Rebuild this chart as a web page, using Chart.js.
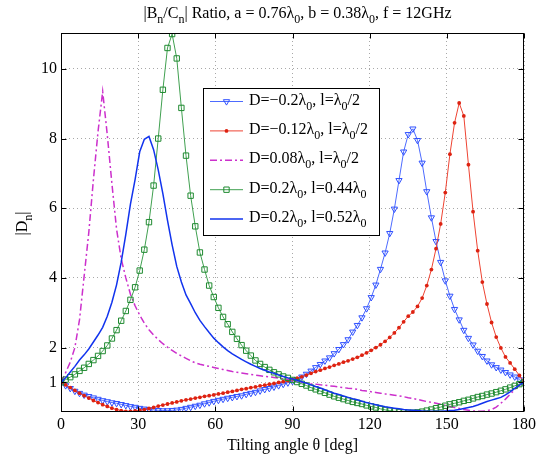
<!DOCTYPE html>
<html>
<head>
<meta charset="utf-8">
<script src="https://cdn.jsdelivr.net/npm/chart.js@4.4.1/dist/chart.umd.min.js"></script>
<style>
html, body { margin: 0; padding: 0; background: #fff; }
#wrap { width: 542px; height: 457px; }
</style>
</head>
<body>
<div id="wrap"><canvas id="chart" width="542" height="457"></canvas></div>
<script>
// tilting angle samples (deg)
var angles = [
    0, 1.8, 3.6, 5.4, 7.2, 9, 10.8, 12.6, 14.4, 16.2,
    18, 19.8, 21.6, 23.4, 25.2, 27, 28.8, 30.6, 32.4, 34.2,
    36, 37.8, 39.6, 41.4, 43.2, 45, 46.8, 48.6, 50.4, 52.2,
    54, 55.8, 57.6, 59.4, 61.2, 63, 64.8, 66.6, 68.4, 70.2,
    72, 73.8, 75.6, 77.4, 79.2, 81, 82.8, 84.6, 86.4, 88.2,
    90, 91.8, 93.6, 95.4, 97.2, 99, 100.8, 102.6, 104.4, 106.2,
    108, 109.8, 111.6, 113.4, 115.2, 117, 118.8, 120.6, 122.4, 124.2,
    126, 127.8, 129.6, 131.4, 133.2, 135, 136.8, 138.6, 140.4, 142.2,
    144, 145.8, 147.6, 149.4, 151.2, 153, 154.8, 156.6, 158.4, 160.2,
    162, 163.8, 165.6, 167.4, 169.2, 171, 172.8, 174.6, 176.4, 178.2,
    180
];

// |Dn| for D=-0.2 l0/2 (triangles)
var dNeg02 = [
    1.00, 0.91, 0.83, 0.75, 0.69, 0.64, 0.60, 0.56, 0.52, 0.48,
    0.45, 0.42, 0.40, 0.37, 0.34, 0.31, 0.29, 0.26, 0.24, 0.22,
    0.21, 0.20, 0.19, 0.19, 0.20, 0.21, 0.23, 0.26, 0.29, 0.32,
    0.35, 0.39, 0.42, 0.46, 0.49, 0.52, 0.55, 0.57, 0.60, 0.62,
    0.66, 0.69, 0.72, 0.76, 0.80, 0.83, 0.87, 0.91, 0.95, 0.99,
    1.03, 1.09, 1.16, 1.24, 1.33, 1.43, 1.52, 1.62, 1.71, 1.83,
    1.95, 2.09, 2.23, 2.45, 2.64, 2.86, 3.12, 3.44, 3.80, 4.25,
    4.72, 5.28, 5.98, 6.80, 7.62, 8.12, 8.28, 7.95, 7.30, 6.48,
    5.73, 5.05, 4.45, 3.92, 3.48, 3.10, 2.80, 2.50, 2.27, 2.08,
    1.90, 1.75, 1.62, 1.51, 1.43, 1.36, 1.29, 1.22, 1.16, 1.08,
    1.00
];

// D=-0.12 l0/2 (dots)
var dNeg012 = [
    1.00, 0.93, 0.85, 0.77, 0.69, 0.62, 0.55, 0.48, 0.42, 0.36,
    0.31, 0.26, 0.22, 0.19, 0.17, 0.17, 0.18, 0.20, 0.22, 0.25,
    0.28, 0.32, 0.35, 0.38, 0.41, 0.44, 0.47, 0.50, 0.52, 0.55,
    0.57, 0.60, 0.62, 0.64, 0.67, 0.69, 0.72, 0.74, 0.77, 0.80,
    0.82, 0.85, 0.87, 0.90, 0.92, 0.95, 0.97, 1.00, 1.02, 1.05,
    1.08, 1.12, 1.16, 1.21, 1.26, 1.31, 1.35, 1.40, 1.44, 1.49,
    1.53, 1.58, 1.62, 1.67, 1.72, 1.78, 1.85, 1.92, 2.00, 2.08,
    2.18, 2.29, 2.42, 2.57, 2.74, 2.90, 3.02, 3.18, 3.42, 3.78,
    4.24, 4.84, 5.55, 6.45, 7.55, 8.45, 9.02, 8.65, 7.25, 5.90,
    4.78, 3.88, 3.25, 2.72, 2.30, 1.99, 1.73, 1.56, 1.38, 1.20,
    1.00
];

// D=0.08 l0/2 (dash-dot)
var dPos008 = [
    1.00, 1.28, 1.58, 2.00, 2.80, 4.05, 5.30, 6.82, 8.20, 9.35,
    8.10, 6.70, 5.40, 4.55, 4.00, 3.53, 3.20, 2.93, 2.70, 2.51,
    2.36, 2.23, 2.11, 2.01, 1.92, 1.83, 1.76, 1.69, 1.62, 1.56,
    1.52, 1.49, 1.46, 1.43, 1.40, 1.37, 1.34, 1.31, 1.29, 1.27,
    1.25, 1.23, 1.21, 1.19, 1.17, 1.16, 1.14, 1.12, 1.10, 1.08,
    1.06, 1.03, 1.00, 0.98, 0.96, 0.95, 0.93, 0.92, 0.90, 0.89,
    0.87, 0.85, 0.83, 0.82, 0.80, 0.77, 0.75, 0.73, 0.71, 0.69,
    0.67, 0.65, 0.63, 0.61, 0.59, 0.56, 0.54, 0.51, 0.48, 0.45,
    0.43, 0.40, 0.37, 0.34, 0.31, 0.28, 0.25, 0.22, 0.20, 0.18,
    0.17, 0.17, 0.19, 0.22, 0.29, 0.40, 0.52, 0.66, 0.79, 0.92,
    1.00
];

// D=0.2 l=0.44 (squares)
var dPos02a = [
    1.00, 1.08, 1.15, 1.23, 1.33, 1.42, 1.53, 1.64, 1.76, 1.90,
    2.06, 2.26, 2.50, 2.77, 3.05, 3.37, 3.73, 4.21, 4.81, 5.60,
    6.65, 8.00, 9.40, 10.60, 11.00, 10.30, 8.88, 7.51, 6.36, 5.48,
    4.73, 4.24, 3.78, 3.45, 3.14, 2.88, 2.67, 2.45, 2.25, 2.07,
    1.91, 1.77, 1.63, 1.53, 1.44, 1.36, 1.29, 1.23, 1.17, 1.13,
    1.07, 1.01, 0.96, 0.91, 0.85, 0.80, 0.75, 0.70, 0.65, 0.60,
    0.56, 0.52, 0.48, 0.44, 0.41, 0.38, 0.34, 0.31, 0.28, 0.24,
    0.21, 0.19, 0.17, 0.15, 0.14, 0.13, 0.13, 0.14, 0.16, 0.19,
    0.22, 0.26, 0.29, 0.33, 0.37, 0.40, 0.43, 0.47, 0.50, 0.54,
    0.58, 0.61, 0.65, 0.68, 0.72, 0.76, 0.80, 0.85, 0.90, 0.95,
    1.00
];

// D=0.2 l=0.52 (solid)
var dPos02b = [
    1.00, 1.13, 1.30, 1.46, 1.64, 1.79, 1.96, 2.16, 2.36, 2.58,
    2.90, 3.30, 3.80, 4.45, 5.25, 6.12, 6.82, 7.62, 7.98, 8.06,
    7.68, 7.10, 6.42, 5.65, 4.95, 4.33, 3.88, 3.51, 3.26, 3.00,
    2.78, 2.60, 2.43, 2.27, 2.14, 2.02, 1.91, 1.82, 1.74, 1.66,
    1.59, 1.52, 1.46, 1.40, 1.35, 1.30, 1.26, 1.21, 1.17, 1.13,
    1.10, 1.06, 1.02, 0.98, 0.93, 0.88, 0.84, 0.79, 0.74, 0.69,
    0.65, 0.61, 0.57, 0.53, 0.50, 0.46, 0.42, 0.39, 0.36, 0.33,
    0.30, 0.28, 0.26, 0.24, 0.22, 0.21, 0.20, 0.19, 0.18, 0.17,
    0.17, 0.17, 0.17, 0.18, 0.19, 0.20, 0.22, 0.25, 0.28, 0.31,
    0.35, 0.40, 0.45, 0.49, 0.53, 0.57, 0.64, 0.73, 0.83, 0.92,
    1.00
];

var seriesLabels = [
    'D=\u22120.2\u03bb_0, l=\u03bb_0/2',
    'D=\u22120.12\u03bb_0, l=\u03bb_0/2',
    'D=0.08\u03bb_0, l=\u03bb_0/2',
    'D=0.2\u03bb_0, l=0.44\u03bb_0',
    'D=0.2\u03bb_0, l=0.52\u03bb_0'
];
var xTicks = [0, 30, 60, 90, 120, 150, 180];
var yTicks = [1, 2, 4, 6, 8, 10];
var chartTitle = '|B_n/C_n| Ratio, a = 0.76\u03bb_0, b = 0.38\u03bb_0, f = 12GHz';
var xTitle = 'Tilting angle \u03b8 [deg]';
var yTitle = '|D_n|';

var FONT = '"Liberation Serif", "Times New Roman", serif';

function toPoints(vals) {
    return angles.map(function (a, i) { return { x: a, y: vals[i] }; });
}

// text with "_x" subscripts
function parseRich(str) {
    var segs = [], buf = '';
    for (var i = 0; i < str.length; i++) {
        if (str[i] === '_' && i + 1 < str.length) {
            if (buf) segs.push({ t: buf, sub: false });
            segs.push({ t: str[i + 1], sub: true });
            buf = '';
            i++;
        } else {
            buf += str[i];
        }
    }
    if (buf) segs.push({ t: buf, sub: false });
    return segs;
}

function drawRich(ctx, str, x, y, size, align) {
    var segs = parseRich(str);
    var w = 0;
    segs.forEach(function (s) {
        ctx.font = (s.sub ? size * 0.75 : size) + 'px ' + FONT;
        w += ctx.measureText(s.t).width;
    });
    if (align === 'center') x -= w / 2;
    ctx.textAlign = 'left';
    ctx.textBaseline = 'alphabetic';
    segs.forEach(function (s) {
        ctx.font = (s.sub ? size * 0.75 : size) + 'px ' + FONT;
        ctx.fillText(s.t, x, s.sub ? y + size * 0.32 : y);
        x += ctx.measureText(s.t).width;
    });
}

var datasets = [
    {
        label: seriesLabels[0], data: toPoints(dNeg02), order: 5,
        borderColor: '#4d6bff', borderWidth: 1,
        pointStyle: 'triangle', pointRotation: 180, pointRadius: 3.6,
        pointBorderColor: '#2f50ff', pointBackgroundColor: 'rgba(0,0,0,0)', pointBorderWidth: 1
    },
    {
        label: seriesLabels[1], data: toPoints(dNeg012), order: 4,
        borderColor: '#ee4433', borderWidth: 1,
        pointStyle: 'circle', pointRadius: 1.9,
        pointBorderColor: '#dd2211', pointBackgroundColor: '#dd2211', pointBorderWidth: 0
    },
    {
        label: seriesLabels[2], data: toPoints(dPos008), order: 3,
        borderColor: '#cc30cc', borderWidth: 1.5, borderDash: [7, 3, 2, 3],
        pointRadius: 0
    },
    {
        label: seriesLabels[3], data: toPoints(dPos02a), order: 2,
        borderColor: '#40a050', borderWidth: 1,
        pointStyle: 'rect', pointRadius: 3.8,
        pointBorderColor: '#1f8a30', pointBackgroundColor: 'rgba(0,0,0,0)', pointBorderWidth: 1
    },
    {
        label: seriesLabels[4], data: toPoints(dPos02b), order: 1,
        borderColor: '#1133ee', borderWidth: 1.5,
        pointRadius: 0
    }
];

function drawMarker(ctx, ds, x, y) {
    var r = ds.pointRadius;
    if (!r) return;
    ctx.save();
    ctx.lineWidth = 1;
    ctx.strokeStyle = ds.pointBorderColor;
    ctx.fillStyle = ds.pointBackgroundColor;
    ctx.beginPath();
    if (ds.pointStyle === 'triangle') {
        ctx.moveTo(x - r * 0.866, y - r * 0.5);
        ctx.lineTo(x + r * 0.866, y - r * 0.5);
        ctx.lineTo(x, y + r);
        ctx.closePath();
        ctx.stroke();
    } else if (ds.pointStyle === 'rect') {
        var s = r * Math.SQRT1_2;
        ctx.rect(x - s, y - s, 2 * s, 2 * s);
        ctx.stroke();
    } else {
        ctx.arc(x, y, r, 0, Math.PI * 2);
        ctx.fill();
    }
    ctx.restore();
}

var decor = {
    id: 'decor',
    afterDraw: function (chart) {
        var ctx = chart.ctx, a = chart.chartArea;
        var xs = chart.scales.x, ys = chart.scales.y;
        var L = Math.round(a.left) + 0.5, R = Math.round(a.right) - 0.5;
        var T = Math.round(a.top) + 0.5, B = Math.round(a.bottom) - 0.5;
        ctx.save();
        ctx.strokeStyle = '#000';
        ctx.lineWidth = 1;
        ctx.strokeRect(L, T, R - L, B - T);

        // inward tick marks
        ctx.beginPath();
        xTicks.forEach(function (v) {
            var px = Math.round(xs.getPixelForValue(v)) + 0.5;
            ctx.moveTo(px, B); ctx.lineTo(px, B - 5);
            ctx.moveTo(px, T); ctx.lineTo(px, T + 5);
        });
        yTicks.forEach(function (v) {
            var py = Math.round(ys.getPixelForValue(v)) + 0.5;
            ctx.moveTo(L, py); ctx.lineTo(L + 5, py);
            ctx.moveTo(R, py); ctx.lineTo(R - 5, py);
        });
        ctx.stroke();

        ctx.fillStyle = '#000';
        drawRich(ctx, chartTitle, (a.left + a.right) / 2 + 5, 17.5, 16, 'center');

        ctx.save();
        ctx.translate(27, (a.top + a.bottom) / 2 + 1);
        ctx.rotate(-Math.PI / 2);
        drawRich(ctx, yTitle, 0, 0, 16, 'center');
        ctx.restore();

        // legend box
        var bx = 203.5, by = 88.5, bw = 176, bh = 147;
        ctx.fillStyle = '#fff';
        ctx.fillRect(bx, by, bw, bh);
        ctx.strokeStyle = '#000';
        ctx.strokeRect(bx, by, bw, bh);
        chart.data.datasets.forEach(function (ds, i) {
            var y = 101.5 + i * 29.4;
            ctx.save();
            ctx.strokeStyle = ds.borderColor;
            ctx.lineWidth = ds.borderWidth;
            ctx.setLineDash(ds.borderDash || []);
            ctx.beginPath();
            ctx.moveTo(210, y);
            ctx.lineTo(243, y);
            ctx.stroke();
            ctx.restore();
            drawMarker(ctx, ds, 226.5, y);
            ctx.fillStyle = '#000';
            drawRich(ctx, seriesLabels[i], 249, y + 3, 16, 'left');
        });
        ctx.restore();
    }
};

var gridOpts = { color: '#a8a8a8', lineWidth: 1, drawTicks: false };
var borderOpts = { display: false, dash: [1, 3] };

new Chart(document.getElementById('chart').getContext('2d'), {
    type: 'line',
    data: { datasets: datasets },
    options: {
        responsive: false,
        animation: false,
        devicePixelRatio: 1,
        layout: { padding: { top: 33, right: 18, left: 0, bottom: 0 } },
        elements: { line: { tension: 0, fill: false } },
        plugins: {
            legend: { display: false },
            tooltip: { enabled: false },
            title: { display: false }
        },
        scales: {
            x: {
                type: 'linear', min: 0, max: 180,
                afterBuildTicks: function (s) { s.ticks = xTicks.map(function (v) { return { value: v }; }); },
                afterFit: function (s) { s.height = 45; },
                ticks: { color: '#000', padding: 3, font: { family: FONT, size: 16 } },
                grid: gridOpts,
                border: borderOpts,
                title: {
                    display: true, text: xTitle, color: '#000',
                    font: { family: FONT, size: 16 }, padding: { top: 0, bottom: 2 }
                }
            },
            y: {
                type: 'linear', min: 0.15, max: 11.03,
                afterBuildTicks: function (s) { s.ticks = yTicks.map(function (v) { return { value: v }; }); },
                afterFit: function (s) { s.width = 61; },
                ticks: { color: '#000', padding: 4, font: { family: FONT, size: 16 } },
                grid: gridOpts,
                border: borderOpts
            }
        }
    },
    plugins: [decor]
});
</script>
</body>
</html>
